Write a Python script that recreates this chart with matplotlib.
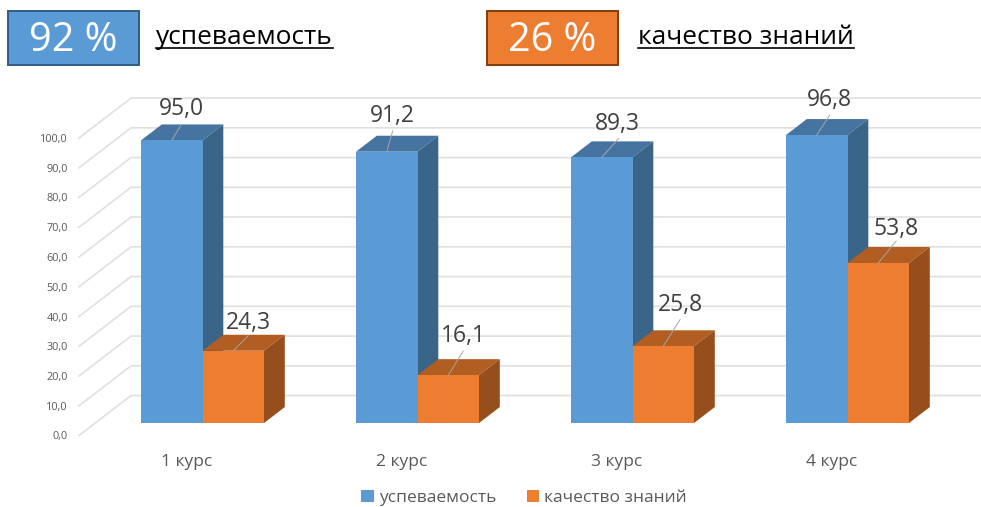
import matplotlib
matplotlib.use("Agg")
import matplotlib.pyplot as plt
from matplotlib.lines import Line2D
from matplotlib.patches import Patch, Polygon, Rectangle

plt.rcParams["font.family"] = ["Open Sans", "DejaVu Sans"]

courses = ["1 курс", "2 курс", "3 курс", "4 курс"]
progress = [95.0, 91.2, 89.3, 96.8]
quality = [24.3, 16.1, 25.8, 53.8]
y_ticks = [0, 10, 20, 30, 40, 50, 60, 70, 80, 90, 100]
series_names = ["успеваемость", "качество знаний"]
summary = ["92 %", "26 %"]

W, H = 981, 507

# depth of the fake 3d box: one unit of depth moves this far on screen
DEPTH_X = 52 / 215      # in category units
DEPTH_Y = 40 / 2.98     # in value units
BAR_D0 = 0.3125
BAR_D1 = 0.7125
BAR_W = 61.5 / 215

BLUE = ("#5b9bd5", "#4674a1", "#3a6488")
ORANGE = ("#ed7d31", "#b25d22", "#964f1c")

# label offsets from the top of each bar, pixels
label_off_blue = [(10, 31), (6, 36), (16, 33), (13, 35)]
label_off_orange = [(15, 28), (15, 39), (17, 41), (18, 34)]
leader_off_blue = [(9, 15), (6, 21), (17, 19), (13, 20)]
leader_off_orange = [(15, 15), (15, 24), (17, 27), (18, 22)]


def proj(x, v, d):
    return (x + d * DEPTH_X, v + d * DEPTH_Y)


def draw_bar(ax, x0, x1, v, colors, zorder):
    top = [proj(x0, v, BAR_D0), proj(x1, v, BAR_D0), proj(x1, v, BAR_D1), proj(x0, v, BAR_D1)]
    side = [proj(x1, 0, BAR_D0), proj(x1, v, BAR_D0), proj(x1, v, BAR_D1), proj(x1, 0, BAR_D1)]
    front = [proj(x0, 0, BAR_D0), proj(x1, 0, BAR_D0), proj(x1, v, BAR_D0), proj(x0, v, BAR_D0)]
    for pts, col in zip([top, side, front], [colors[1], colors[2], colors[0]]):
        ax.add_patch(Polygon(pts, closed=True, facecolor=col, edgecolor="none",
                             zorder=zorder, clip_on=False))


def draw_label(ax, x, v, value, label_off, leader_off, zorder):
    xy = proj(x, v, BAR_D0)
    text = f"{value:.1f}".replace(".", ",")
    ax.annotate(text, xy=xy, xytext=label_off, textcoords="offset pixels",
                ha="center", va="center", fontsize=16.5, color="#404040", zorder=zorder,
                annotation_clip=False)
    ax.annotate("", xy=xy, xytext=leader_off, textcoords="offset pixels",
                arrowprops=dict(arrowstyle="-", color="#a6a6a6", lw=0.7, shrinkA=0, shrinkB=0),
                zorder=zorder, annotation_clip=False)


fig = plt.figure(figsize=(W / 100, H / 100), dpi=100)
ax = fig.add_axes([79 / W, (H - 435.5) / H, 850 / W, 297.5 / H])
ax.set_xlim((79 - 186.25) / 215, (929 - 186.25) / 215)
ax.set_ylim(0, 100)
for s in ax.spines.values():
    s.set_visible(False)

# walls
for v in y_ticks:
    left = proj(ax.get_xlim()[0], v, 0)
    corner = proj(ax.get_xlim()[0], v, 1)
    right = proj(ax.get_xlim()[1], v, 1)
    ax.plot([left[0], corner[0], right[0]], [left[1], corner[1], right[1]],
            color="#e0e0e0", lw=1.2, zorder=1, clip_on=False, solid_joinstyle="miter")

for i in range(len(courses)):
    draw_bar(ax, i - BAR_W, i, progress[i], BLUE, 2 + i * 0.1)
    draw_bar(ax, i, i + BAR_W, quality[i], ORANGE, 2 + i * 0.1 + 0.05)
    draw_label(ax, i - BAR_W / 2, progress[i], progress[i],
               label_off_blue[i], leader_off_blue[i], 5)
    draw_label(ax, i + BAR_W / 2, quality[i], quality[i],
               label_off_orange[i], leader_off_orange[i], 5)

ax.set_yticks(y_ticks)
ax.set_yticklabels([f"{v:.1f}".replace(".", ",") for v in y_ticks], fontsize=7.8, color="#595959")
ax.set_xticks(range(len(courses)))
ax.set_xticklabels(courses, fontsize=12.5, color="#595959")
ax.tick_params(axis="y", length=0, pad=8)
ax.tick_params(axis="x", length=0, pad=13)

# legend
handles = [Patch(facecolor=BLUE[0], label=series_names[0]),
           Patch(facecolor=ORANGE[0], label=series_names[1])]
fig.legend(handles=handles, ncols=2, frameon=False, fontsize=12.5, labelcolor="#595959",
           loc="center", bbox_to_anchor=(524 / W, (H - 498) / H), handlelength=0.72,
           handleheight=0.72, handletextpad=0.3, columnspacing=1.75, borderpad=0)

# header boxes
box_x = [8, 487]
box_edges = ["#2f5d86", "#843c0c"]
box_colors = [BLUE[0], ORANGE[0]]
title_x = [156, 638]
for i in range(2):
    fig.add_artist(Rectangle((box_x[i] / W, (H - 64.5) / H), 131 / W, 53.5 / H,
                             transform=fig.transFigure, facecolor=box_colors[i],
                             edgecolor=box_edges[i], lw=1.4))
    fig.text((box_x[i] + 65.5) / W, (H - 40.5) / H, summary[i], ha="center", va="center",
             fontsize=28.5, color="white")
    t = fig.text(title_x[i] / W, (H - 37) / H, series_names[i], ha="left", va="center",
                 fontsize=18.9, color="black")
    bb = t.get_window_extent(fig.canvas.get_renderer())
    fig.add_artist(Line2D([bb.x0 / W, bb.x1 / W], [(H - 47.5) / H] * 2,
                          transform=fig.transFigure, color="black", lw=1.2))

fig.savefig("out.png", dpi=100, facecolor="white")
